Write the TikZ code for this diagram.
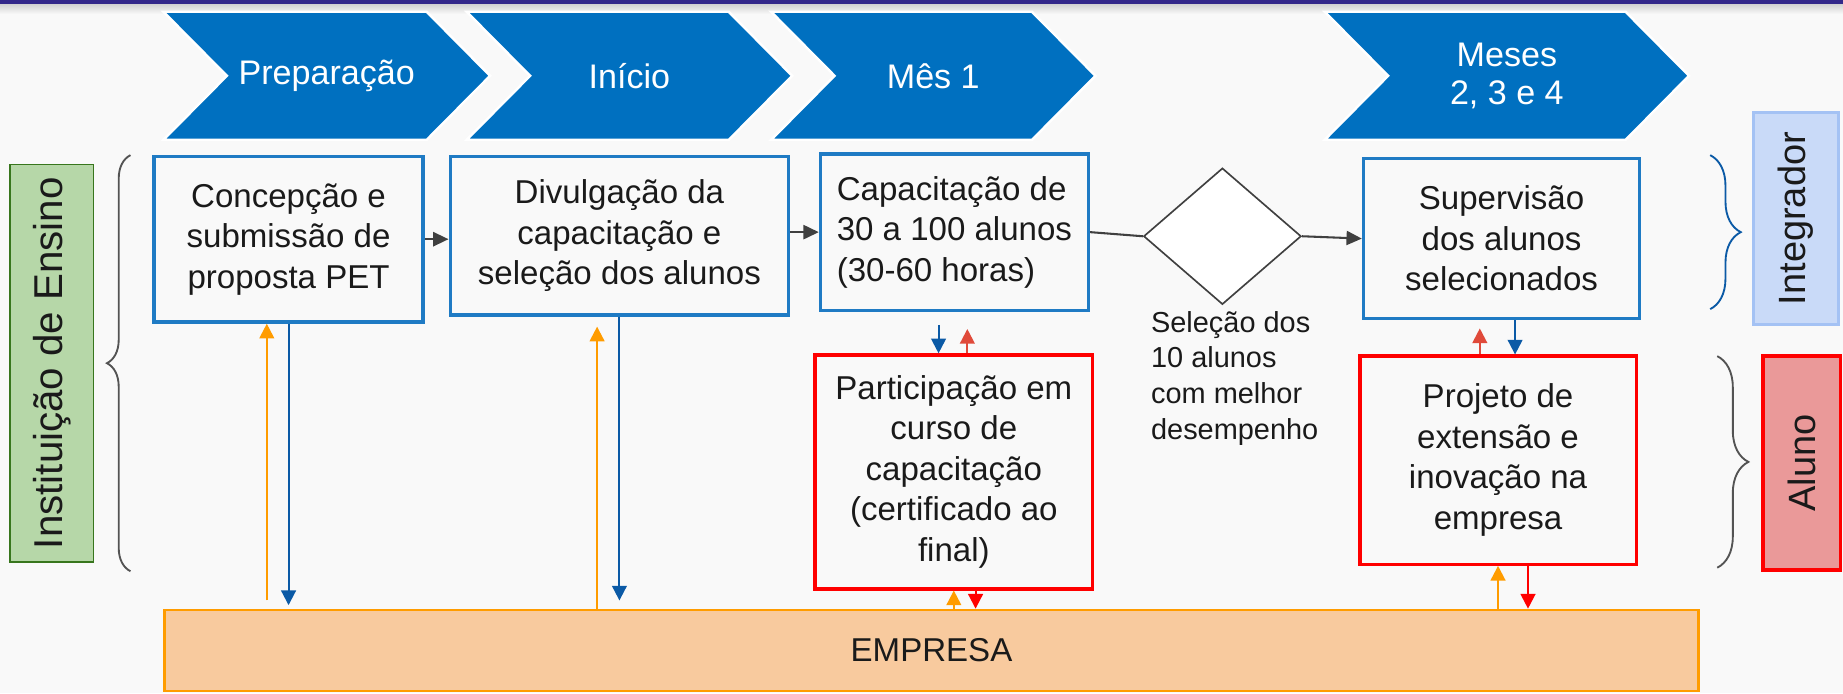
\documentclass[tikz,border=0pt]{standalone}
\usepackage{fontspec}
\setmainfont{Liberation Sans}
\usetikzlibrary{positioning,calc,shapes.geometric,arrows.meta,decorations.pathreplacing}

\definecolor{fundo}{HTML}{F9F9F9}
\definecolor{barra}{HTML}{33288A}
\definecolor{chevazul}{HTML}{0070C0}
\definecolor{caixazul}{HTML}{1F7BC4}
\definecolor{setazul}{HTML}{0B5AA6}
\definecolor{laranja}{HTML}{FF9C00}
\definecolor{pessego}{HTML}{F8CA9E}
\definecolor{verm}{HTML}{FF0000}
\definecolor{vermclaro}{HTML}{E04A3A}
\definecolor{cinza}{HTML}{404040}
\definecolor{verde}{HTML}{B6D7A8}
\definecolor{verdeesc}{HTML}{38761D}
\definecolor{azulclaro}{HTML}{C9DAF8}
\definecolor{azulborda}{HTML}{A4C2F4}
\definecolor{rosa}{HTML}{EA9999}
\definecolor{preto}{HTML}{1A1A1A}

\tikzset{
  chevron/.style={fill=chevazul, draw=white, line width=1.2pt},
  chevtext/.style={text=white, align=center, font=\fontsize{16.5}{18.2}\selectfont},
  etapa/.style={draw=caixazul, line width=1.6pt, fill=fundo, align=center, inner sep=0pt,
    text=preto, font=\fontsize{16}{19.6}\selectfont},
  etapaverm/.style={etapa, draw=verm},
  decisao/.style={diamond, draw=cinza, fill=white, line width=0.8pt, inner sep=0pt,
    minimum width=26.8mm, minimum height=23.2mm},
  empresabox/.style={draw=laranja, fill=pessego, line width=1.3pt, inner sep=0pt,
    text=preto, font=\fontsize{16}{19}\selectfont},
  rotulo/.style={rotate=90, inner sep=0pt, text=preto, font=\fontsize{18.4}{20}\selectfont},
  seta/.style={-{Triangle[length=2.5mm,width=2.5mm]}, line width=1pt},
  setacinza/.style={-{Triangle[length=2.6mm,width=2.4mm]}, line width=1pt, draw=cinza, fill=cinza},
  chave/.style={decorate, decoration={brace, amplitude=#1}, line width=0.9pt}
}

\begin{document}
\begin{tikzpicture}[x=0.2mm, y=-0.2mm]
  % fundo e barra superior
  \fill[fundo] (0,0) rectangle (1568,590);
  \useasboundingbox (0,0) rectangle (1568,590);
  \shade[top color=black!18, bottom color=fundo] (0,3.5) rectangle (1568,12);
  \fill[barra] (0,0) rectangle (1568,3.5);

  % etapas no topo
  \foreach \lx/\rx/\nome/\texto in {139/363/prep/{Preparação}, 397/620/ini/{Início},
      656/878/mes1/{Mês 1}, 1127/1383/mes24/{Meses\\2, 3 e 4}}{
    \draw[chevron] (\lx,10) -- (\rx,10) -- (\rx+54,64.5) -- (\rx,119) -- (\lx,119)
      -- (\lx+54,64.5) -- cycle;
    \node[chevtext] (\nome) at ({(\lx+\rx+54)/2},64.5) {\texto};
  }

  % caixas
  \node[etapa, minimum width=45.8mm, minimum height=28.2mm] (concep) at (245.5,203.5)
    {Concepção e\\submissão de\\proposta PET};
  \node[etapa, minimum width=57.6mm, minimum height=27mm] (divulg) at (527,200.5)
    {Divulgação da\\capacitação e\\seleção dos alunos};
  \node[etapa, align=left, minimum width=45.6mm, minimum height=26.6mm] (capac) at (812,197.5)
    {Capacitação de\\30 a 100 alunos\\(30-60 horas)};
  \node[decisao] (selec) at (1040,201) {};
  \node[etapa, minimum width=47mm, minimum height=27.2mm] (superv) at (1277.5,203)
    {Supervisão\\dos alunos\\selecionados};
  \node[etapaverm, minimum width=47.2mm, minimum height=39.8mm] (partic) at (811.5,401.5)
    {Participação em\\curso de\\capacitação\\(certificado ao\\final)};
  \node[etapaverm, minimum width=47mm, minimum height=35.4mm] (projeto) at (1274.5,391.5)
    {Projeto de\\extensão e\\inovação na\\empresa};
  \node[empresabox, minimum width=261mm, minimum height=13.8mm] (empresa) at (792.5,553.5)
    {EMPRESA};
  \node[anchor=west, align=left, inner sep=0pt, text=preto, font=\fontsize{14}{17.4}\selectfont]
    (criterio) at (979,322) {Seleção dos\\10 alunos\\com melhor\\desempenho};

  % rotulos laterais
  \node[rotulo, draw=verdeesc, fill=verde, line width=0.9pt, font=\fontsize{19.5}{21}\selectfont,
    minimum width=67.6mm, minimum height=14.2mm] (ensino) at (44,309) {Instituição de Ensino};
  \node[rotulo, draw=azulborda, fill=azulclaro, line width=1.4pt,
    minimum width=36mm, minimum height=14.4mm] (integr) at (1528,186) {Integrador};
  \node[rotulo, draw=verm, fill=rosa, line width=1.6pt,
    minimum width=36.4mm, minimum height=13.2mm] (aluno) at (1533,394) {Aluno};

  % chaves
  \draw[chave=4mm, cinza!90] (111,486) -- (111,132);
  \draw[chave=5.2mm, setazul] (1455,132) -- (1455,263);
  \draw[chave=5.3mm, cinza!90] (1461,303) -- (1461,483);

  % fluxo horizontal
  \draw[setacinza] (concep.east) -- (concep.east -| divulg.west);
  \draw[setacinza] (divulg.east |- capac.west) -- (capac.west);
  \draw[cinza, line width=1pt] (capac.east) -- (selec.west);
  \draw[setacinza] (selec.east) -- (superv.west);

  % ligacoes com a empresa e entre caixas
  \coordinate (o1) at ($(concep.south)+(-18.5,0)$);
  \coordinate (o2) at ($(divulg.south)+(-19,0)$);
  \coordinate (b3) at ($(capac.south)+(-13.5,0)$);
  \coordinate (r3) at ($(partic.north)+(11.5,0)$);
  \coordinate (r5) at ($(partic.south)+(18.5,0)$);
  \coordinate (r4) at ($(projeto.north)+(-15.5,0)$);
  \coordinate (b4) at ($(superv.south)+(11.5,0)$);
  \coordinate (r6) at ($(projeto.south)+(25.5,0)$);

  \draw[seta, laranja, shorten <=1.4mm] (o1 |- empresa.north) -- (o1);
  \draw[seta, setazul, shorten >=0.6mm] (concep.south) -- (concep.south |- empresa.north);
  \draw[seta, laranja, shorten >=1.7mm] (o2 |- empresa.north) -- (o2);
  \draw[seta, setazul, shorten >=1.4mm] (divulg.south) -- (divulg.south |- empresa.north);
  \draw[seta, setazul, shorten <=2.2mm] (b3) -- (b3 |- partic.north);
  \draw[seta, vermclaro, shorten >=2.9mm] (r3) -- (r3 |- capac.south);
  \draw[seta, laranja] (partic.south |- empresa.north) -- (partic.south);
  \draw[seta, verm] (r5) -- (r5 |- empresa.north);
  \draw[seta, vermclaro, shorten >=1.4mm] (r4) -- (r4 |- superv.south);
  \draw[seta, setazul] (b4) -- (b4 |- projeto.north);
  \draw[seta, laranja] (projeto.south |- empresa.north) -- (projeto.south);
  \draw[seta, verm] (r6) -- (r6 |- empresa.north);
\end{tikzpicture}
\end{document}
